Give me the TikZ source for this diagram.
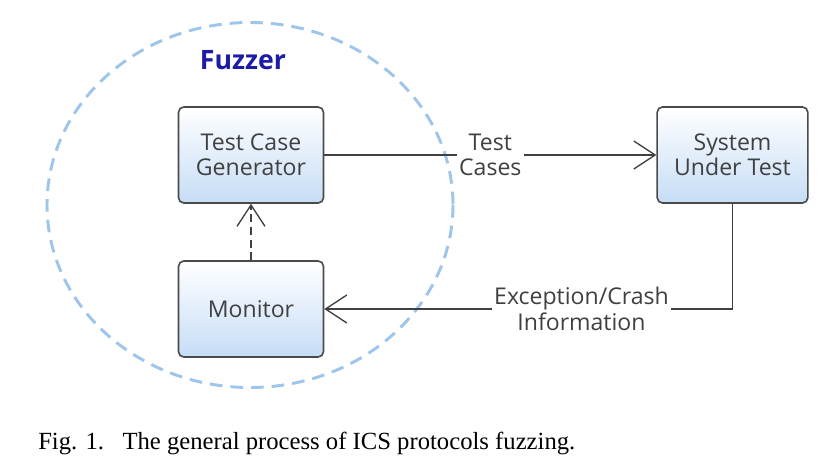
\documentclass[tikz,border=0pt]{standalone}
\usepackage{fontspec}
\setmainfont{Liberation Serif}
\newfontfamily\diagfont{Open Sans}
\usetikzlibrary{arrows.meta,shadings}
\definecolor{boxborder}{HTML}{4A4A4A}
\definecolor{boxbottom}{HTML}{C6DDF6}
\definecolor{ringblue}{HTML}{9EC5EA}
\definecolor{fuzzblue}{HTML}{1C1CA6}
\definecolor{linegray}{HTML}{404040}
\tikzset{
  procbox/.style={draw=boxborder, line width=1.2pt, rounded corners=4pt,
    top color=white, bottom color=boxbottom, minimum width=108.75pt, minimum height=72pt,
    align=center, font=\diagfont\fontsize{17.3}{19}\selectfont, text=black!75, inner sep=0pt},
  flow/.style={draw=linegray, line width=1pt, -{Straight Barb[length=16pt,width=21pt,line width=1pt]}},
  lbl/.style={fill=white, align=center, font=\diagfont\fontsize{17.3}{19}\selectfont, text=black!75, inner sep=2pt},
}
\begin{document}
\begin{tikzpicture}[x=0.75pt,y=-0.75pt]
\useasboundingbox (0,0) rectangle (831,471);
\fill[white] (0,0) rectangle (831,471);
% Fuzzer ring
\draw[ringblue, line width=2.2pt, dash pattern=on 9.5pt off 6pt] (250,205) ellipse [x radius=203, y radius=182.5];
\node[font=\diagfont\bfseries\fontsize{20}{24}\selectfont, text=fuzzblue] (fuzzer) at (243,60) {Fuzzer};
% boxes
\node[procbox] (tcg) at (251,155) {Test Case\\Generator};
\node[procbox] (mon) at (251,309) {Monitor};
\node[procbox, minimum width=113pt] (sut) at (732.5,155) {System\\Under Test};
\coordinate (corner) at (sut.south |- mon.east);
% connectors
\draw[flow] (tcg.east) -- node[lbl] (tc) {Test\\Cases} (sut.west);
\draw[flow, dash pattern=on 6pt off 3.5pt] (mon.north) -- (tcg.south);
\draw[flow] (sut.south) -- (corner) -- node[lbl, pos=0.37] (exc) {Exception/Crash\\Information} (mon.east);
% caption
\node[anchor=base west, font=\fontsize{18.5}{22}\selectfont, inner sep=0pt] (cap) at (38,449)
  {Fig. 1.\hspace{0.75em}The general process of ICS protocols fuzzing.};
\end{tikzpicture}
\end{document}
